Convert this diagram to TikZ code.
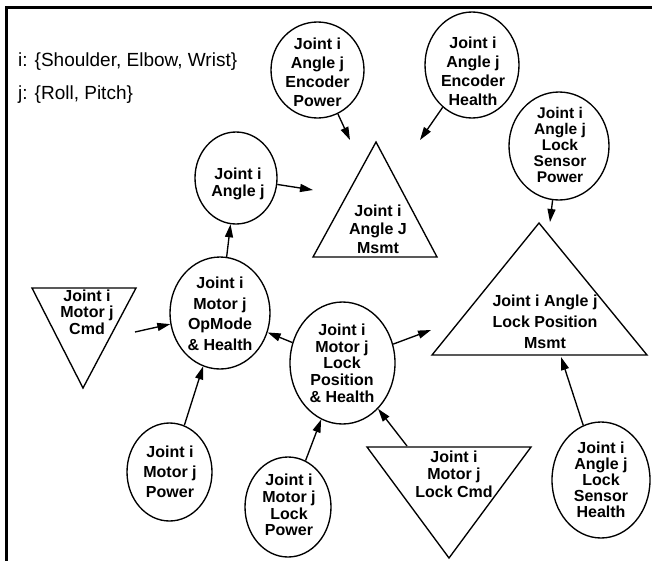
\documentclass[tikz,border=0pt]{standalone}
\usepackage{fontspec}
\setmainfont{Liberation Sans}
\usetikzlibrary{shapes.geometric,arrows.meta}

\begin{document}
\begin{tikzpicture}[x=1pt,y=-1pt,
  bub/.style={draw, ellipse, line width=1.35pt, inner sep=0pt},
  tri/.style={draw, line width=1.35pt, line join=miter},
  lbl/.style={align=center, inner sep=0pt, font=\fontsize{16}{#1}\selectfont\bfseries},
  lbl/.default=19,
  arr/.style={-{Triangle[length=13pt,width=8pt]}, line width=1.35pt},
  note/.style={anchor=west, inner sep=0pt, font=\fontsize{19}{22}\selectfont}]

\useasboundingbox (0,0) rectangle (652,560);
\clip (0,0) rectangle (652,560);

% outer frame (runs off the right and bottom edges)
\draw[line width=2.8pt] (6.2,7.3) rectangle (700,620);

% index legend
\node[note] (ilbl) at (18,62) {i: \{Shoulder, Elbow, Wrist\}};
\node[note] (jlbl) at (18,95) {j: \{Roll, Pitch\}};

% ---- elliptical nodes ----
\node[bub, minimum width=93pt, minimum height=96pt] (encpow) at (317.5,70) {};
\node[lbl] (encpowt) at (317.5,72) {Joint i\\Angle j\\Encoder\\Power};

\node[bub, minimum width=94pt, minimum height=106pt] (enchlth) at (472,65) {};
\node[lbl] (enchltht) at (473,71) {Joint i\\Angle j\\Encoder\\Health};

\node[bub, minimum width=100pt, minimum height=108pt] (lspow) at (559,146) {};
\node[lbl, font=\fontsize{15.5}{16}\selectfont\bfseries] (lspowt) at (560,145) {Joint i\\Angle j\\Lock\\Sensor\\Power};

\node[bub, minimum width=82pt, minimum height=92pt] (angle) at (236,178) {};
\node[lbl=16.5] (anglet) at (238,184) {Joint i\\Angle j};

\node[bub, minimum width=100pt, minimum height=112pt] (opmode) at (220,313) {};
\node[lbl=20.5] (opmodet) at (220,314) {Joint i\\Motor j\\OpMode\\\& Health};

\node[bub, minimum width=85pt, minimum height=98pt] (mpow) at (169.5,472) {};
\node[lbl=20] (mpowt) at (170,472) {Joint i\\Motor j\\Power};

\node[bub, minimum width=105pt, minimum height=122pt] (lockpos) at (342.5,363) {};
\node[lbl=16.7] (lockpost) at (342,363) {Joint i\\Motor j\\Lock\\Position\\\& Health};

\node[bub, minimum width=86pt, minimum height=100pt] (lpow) at (288,507) {};
\node[lbl=16.7] (lpowt) at (289,505) {Joint i\\Motor j\\Lock\\Power};

\node[bub, minimum width=98pt, minimum height=116pt] (lshlth) at (601,480) {};
\node[lbl=16] (lshltht) at (601,480) {Joint i\\Angle j\\Lock\\Sensor\\Health};

% ---- triangular nodes ----
\coordinate (msA) at (376,142);
\coordinate (msB) at (313,257);
\coordinate (msC) at (437,257);
\draw[tri] (msA) -- (msB) -- (msC) -- cycle;
\node[lbl=18.5] (msmt) at (378,229) {Joint i\\Angle J\\Msmt};

\coordinate (cmA) at (32,288);
\coordinate (cmB) at (136,288);
\coordinate (cmC) at (83,388);
\draw[tri] (cmA) -- (cmB) -- (cmC) -- cycle;
\node[lbl=16.5] (cmd) at (87,312) {Joint i\\Motor j\\Cmd};

\coordinate (lmA) at (539,223);
\coordinate (lmB) at (432,355);
\coordinate (lmC) at (647,355);
\draw[tri] (lmA) -- (lmB) -- (lmC) -- cycle;
\node[lbl=21] (lockmsmt) at (545,322) {Joint i Angle j\\Lock Position\\Msmt};

\coordinate (lcA) at (367,447);
\coordinate (lcB) at (531,447);
\coordinate (lcC) at (449,558);
\draw[tri] (lcA) -- (lcB) -- (lcC) -- cycle;
\node[lbl=17.5] (lockcmd) at (454,474) {Joint i\\Motor j\\Lock Cmd};

% ---- free arrow ends near the triangles ----
\coordinate (toMsL) at (350,140);
\coordinate (toMsR) at (420,140);
\coordinate (toMsW) at (313,190);
\coordinate (toLm) at (431,330);
\coordinate (toLmTop) at (550,222);
\coordinate (toLmBot) at (561,357);
\coordinate (fromCmd) at (135,332);
\coordinate (fromLc) at (407,446);

% ---- connectors ----
\draw[arr] (encpow) -- (toMsL);
\draw[arr] (enchlth) -- (toMsR);
\draw[arr] (angle) -- (toMsW);
\draw[arr] (opmode) -- (angle);
\draw[arr] (fromCmd) -- (opmode);
\draw[arr] (mpow) -- (opmode);
\draw[arr] (lockpos) -- (opmode);
\draw[arr] (lockpos) -- (toLm);
\draw[arr] (lpow) -- (lockpos);
\draw[arr] (fromLc) -- (lockpos);
\draw[arr] (lspow) -- (toLmTop);
\draw[arr] (lshlth) -- (toLmBot);

\end{tikzpicture}
\end{document}
